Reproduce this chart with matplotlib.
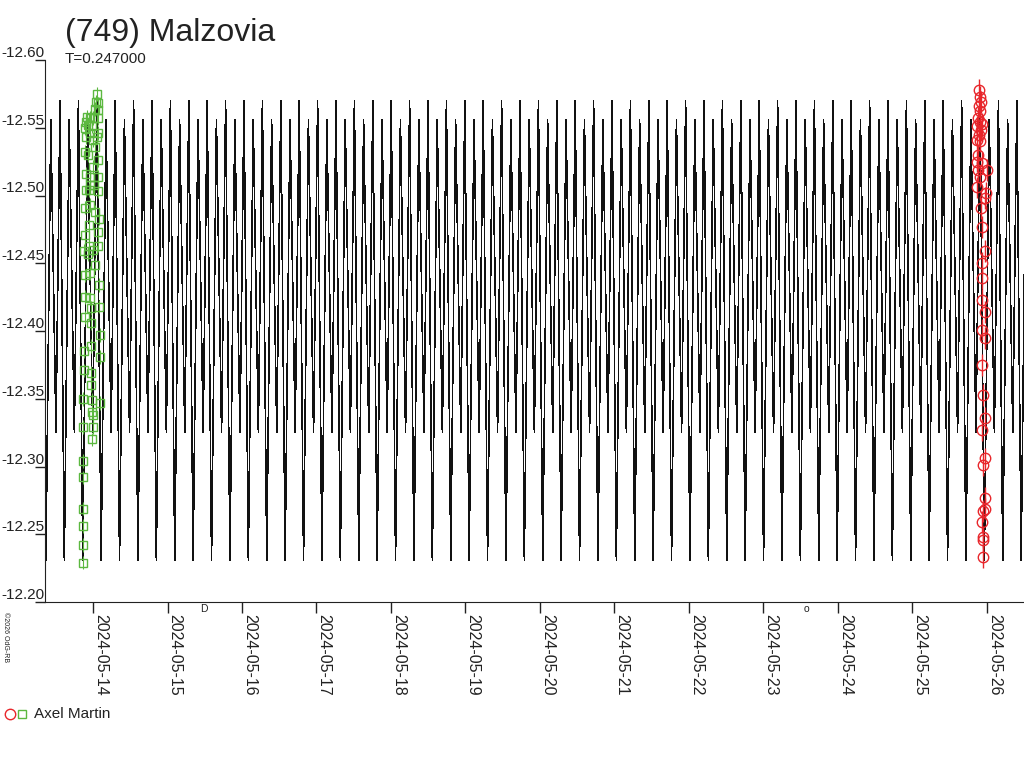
import numpy as np
import matplotlib
matplotlib.use('Agg')
import matplotlib.pyplot as plt
import matplotlib.dates as mdates
from matplotlib.lines import Line2D
from datetime import datetime

plt.rcParams['font.family'] = ['Liberation Sans', 'DejaVu Sans']

title = '(749) Malzovia'
period = 0.247  # days
observer = 'Axel Martin'

# one cycle of the model light curve (phase, magnitude), phase 0 = main maximum
model_phase = [0.0, 0.235, 0.5, 0.78]
model_mag = [-12.570, -12.231, -12.556, -12.325]
model_epoch = datetime(2024, 5, 18, 6, 0)

# session 1 (green squares): days from 2024-05-14 00:00, magnitude
s1_ref = datetime(2024, 5, 14)
s1_t = [0.050, 0.040, 0.071, 0.027, 0.063, -0.085, -0.040, 0.004, 0.071, -0.094, -0.063, -0.017, -0.107,
        0.071, -0.040, 0.050, -0.094, 0.004, 0.027, -0.107, -0.063, 0.071, 0.004, -0.094, -0.040, 0.071,
        -0.040, 0.013, -0.094, -0.050, 0.071, -0.040, -0.107, 0.027, 0.085, -0.050, 0.071, -0.107, -0.050,
        0.071, -0.004, -0.121, -0.063, 0.027,
        -0.107, -0.040, 0.085, -0.107, -0.040, -0.031, 0.085, -0.107, -0.031, 0.094, -0.117, -0.031, 0.094,
        -0.117, -0.031, -0.027, -0.130, -0.017, 0.094, -0.009, -0.004, -0.130, -0.004, -0.017, -0.130,
        -0.130, -0.130, -0.138, -0.138, -0.138]
s1_mag = [-12.575, -12.569, -12.568, -12.564, -12.563, -12.558, -12.557, -12.557, -12.557, -12.554, -12.552,
          -12.551, -12.550, -12.546, -12.546, -12.543, -12.543, -12.541, -12.536, -12.532, -12.530, -12.526,
          -12.521, -12.516, -12.514, -12.514, -12.508, -12.508, -12.504, -12.504, -12.503, -12.493, -12.491,
          -12.488, -12.483, -12.478, -12.473, -12.471, -12.463, -12.463, -12.460, -12.459, -12.457, -12.449,
          -12.441, -12.443, -12.434, -12.425, -12.424, -12.417, -12.418, -12.410, -12.406, -12.397, -12.385,
          -12.389, -12.381, -12.371, -12.369, -12.360, -12.350, -12.349, -12.347, -12.340, -12.338, -12.329,
          -12.329, -12.320, -12.304, -12.292, -12.269, -12.256, -12.242, -12.229]

# session 2 (red circles): days from 2024-05-26 00:00, magnitude
s2_ref = datetime(2024, 5, 26)
s2_t = [-0.103, -0.094, -0.085, -0.103, -0.094, -0.117, -0.094, -0.071, -0.130, -0.085, -0.103, -0.138,
        -0.094, -0.117, -0.138, -0.071, -0.117, -0.004, -0.094, -0.138, -0.013, -0.027, -0.085, -0.071,
        -0.027, -0.071, -0.071, -0.071, -0.027, -0.071, -0.027, -0.071, -0.050, -0.027, -0.071, -0.027,
        -0.050, -0.027, -0.027, -0.058, -0.071, -0.050, -0.050, -0.050]
s2_mag = [-12.578, -12.573, -12.569, -12.566, -12.562, -12.557, -12.554, -12.553, -12.551, -12.548, -12.545,
          -12.541, -12.540, -12.530, -12.525, -12.524, -12.519, -12.519, -12.514, -12.506, -12.502, -12.498,
          -12.491, -12.477, -12.459, -12.450, -12.439, -12.423, -12.414, -12.401, -12.395, -12.375, -12.353,
          -12.336, -12.327, -12.306, -12.301, -12.277, -12.269, -12.267, -12.259, -12.248, -12.246, -12.233]

moon_dates = [datetime(2024, 5, 15, 11, 48), datetime(2024, 5, 23, 13, 53)]
moon_marks = ['D', 'o']

x_start = datetime(2024, 5, 13, 8, 32)
x_end = datetime(2024, 5, 26, 11, 56)
y_ticks = [-12.60, -12.55, -12.50, -12.45, -12.40, -12.35, -12.30, -12.25, -12.20]


def tile_model(start, end):
    # repeat the one-cycle shape over the plotted time range
    e = mdates.date2num(model_epoch)
    a = mdates.date2num(start)
    b = mdates.date2num(end)
    k0 = int(np.floor((a - e) / period)) - 1
    k1 = int(np.ceil((b - e) / period)) + 1
    t = []
    m = []
    for k in range(k0, k1 + 1):
        for ph, mg in zip(model_phase, model_mag):
            t.append(e + (k + ph) * period)
            m.append(mg)
    return np.array(t), np.array(m)


def main():
    fig = plt.figure(figsize=(10.24, 7.68), dpi=100)
    ax = fig.add_axes([45 / 1024, 1 - 602 / 768, 1 - 45 / 1024, 542 / 768])

    t, m = tile_model(x_start, x_end)
    ax.plot(t, m, color='#111111', lw=0.45, antialiased=False, zorder=2)

    t1 = mdates.date2num(s1_ref) + np.array(s1_t)
    ax.errorbar(t1, s1_mag, yerr=0.005, fmt='s', ms=5.5, mfc='none', mec='#5cb840', mew=1,
                ecolor='#5cb840', elinewidth=0.8, capsize=0, zorder=3)
    t2 = mdates.date2num(s2_ref) + np.array(s2_t)
    ax.errorbar(t2, s2_mag, yerr=0.008, fmt='o', ms=7.5, mfc='none', mec='#e8262b', mew=1,
                ecolor='#e8262b', elinewidth=1, capsize=0, zorder=4)

    ax.set_xlim(x_start, x_end)
    ax.set_ylim(-12.20, -12.60)
    for s in ['top', 'right']:
        ax.spines[s].set_visible(False)
    ax.spines['left'].set_color('#222222')
    ax.spines['bottom'].set_color('#222222')

    ax.xaxis.set_major_locator(mdates.DayLocator())
    ax.xaxis.set_major_formatter(mdates.DateFormatter('%Y-%m-%d'))
    ax.tick_params(axis='x', direction='out', length=8, width=1, pad=1, labelsize=11.5, colors='#222222')
    for lbl in ax.get_xticklabels():
        lbl.set_rotation(-90)
        lbl.set_ha('left')
        lbl.set_va('top')

    ax.set_yticks(y_ticks)
    ax.set_yticklabels(['%.2f' % v for v in y_ticks])
    ax.tick_params(axis='y', direction='out', length=7, width=1, pad=-7, labelsize=11, colors='#222222')
    for lbl in ax.get_yticklabels():
        lbl.set_va('bottom')

    # moon phases under the time axis
    trans = ax.get_xaxis_transform()
    for d, s in zip(moon_dates, moon_marks):
        ax.text(mdates.date2num(d), -0.012, s, transform=trans, ha='center', va='center',
                fontsize=7.5, color='#222222', clip_on=False)

    fig.text(65 / 1024, 1 - 41 / 768, title, fontsize=23, color='#222222', va='baseline')
    fig.text(65 / 1024, 1 - 63 / 768, 'T=%.6f' % period, fontsize=11, color='#222222', va='baseline')
    fig.text(2 / 1024, 1 - 612 / 768, '©2026 OdG-RB', fontsize=5, rotation=-90,
             ha='left', va='top', color='#222222')

    # legend
    fig.add_artist(Line2D([10 / 1024], [1 - 714 / 768], marker='o', ms=7.5, mfc='none', mec='#e8262b',
                          mew=1, ls='none', transform=fig.transFigure))
    fig.add_artist(Line2D([22 / 1024], [1 - 714 / 768], marker='s', ms=5.5, mfc='none', mec='#5cb840',
                          mew=1, ls='none', transform=fig.transFigure))
    fig.text(34 / 1024, 1 - 714 / 768, observer, fontsize=11, va='center', color='#222222')

    fig.savefig('out.png', dpi=100)


if __name__ == '__main__':
    main()
